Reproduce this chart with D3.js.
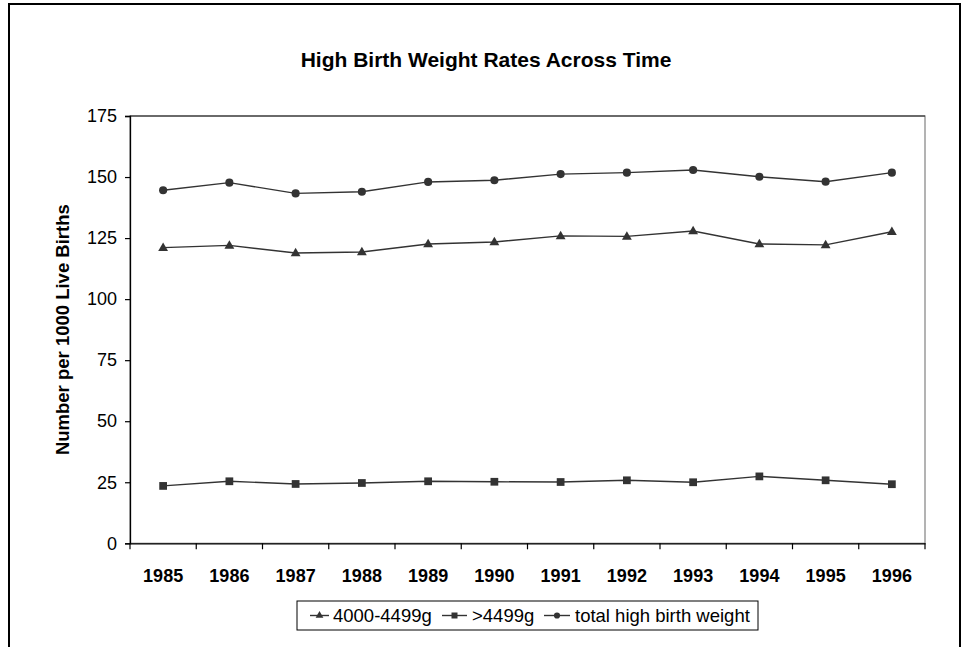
<!DOCTYPE html>
<html>
<head>
<meta charset="utf-8">
<script src="https://cdn.jsdelivr.net/npm/d3@7"></script>
<style>
  html, body { margin: 0; padding: 0; background: #fff; }
  svg { display: block; font-family: Arial, "Liberation Sans", sans-serif; }
</style>
</head>
<body>
<svg id="chart" width="963" height="647"></svg>
<script>
const years = ["1985","1986","1987","1988","1989","1990","1991","1992","1993","1994","1995","1996"];
const series4000 = [121.1, 122.0, 118.9, 119.3, 122.6, 123.4, 125.9, 125.7, 127.9, 122.6, 122.2, 127.6];
const series4499 = [23.5, 25.4, 24.3, 24.7, 25.4, 25.2, 25.1, 25.8, 25.0, 27.4, 25.8, 24.2];
const seriesTotal = [144.6, 147.7, 143.3, 144.0, 148.0, 148.7, 151.2, 151.8, 152.9, 150.1, 148.1, 151.8];
const seriesNames = ["4000-4499g", ">4499g", "total high birth weight"];
const yTicks = [0, 25, 50, 75, 100, 125, 150, 175];
const title = "High Birth Weight Rates Across Time";
const yTitle = "Number per 1000 Live Births";

const svg = d3.select("#chart");
const ink = "#333";
const FONT = "Arial, 'Liberation Sans', sans-serif";

// outer frame
svg.append("rect").attr("x", 9).attr("y", 4).attr("width", 951).attr("height", 660)
  .attr("fill", "none").attr("stroke", "#000").attr("stroke-width", 2);

const L = 130, R = 925, T = 116, B = 543.3;
const x = d3.scaleBand().domain(years).range([L, R]).padding(0);
const y = d3.scaleLinear().domain([0, 175]).range([B, T]);

// plot area border
svg.append("rect").attr("x", L).attr("y", T).attr("width", R - L).attr("height", B - T)
  .attr("fill", "none").attr("stroke", "#808080").attr("stroke-width", 1.2);
svg.append("line").attr("x1", L).attr("x2", R).attr("y1", T).attr("y2", T)
  .attr("stroke", "#222").attr("stroke-width", 1.2);

// y axis
const yAxis = svg.append("g").attr("transform", `translate(${L},0)`)
  .call(d3.axisLeft(y).tickValues(yTicks).tickSize(5).tickPadding(8).tickFormat(d3.format("d")));
yAxis.select(".domain").attr("stroke", "#000").attr("stroke-width", 1.3);
yAxis.selectAll(".tick line").attr("stroke", "#000").attr("stroke-width", 1.2);
yAxis.selectAll("text").attr("font-size", 18).attr("fill", "#000").attr("font-family", FONT);

// x axis
const xAxis = svg.append("g").attr("transform", `translate(0,${B})`)
  .call(d3.axisBottom(x).tickSize(0).tickPadding(0));
xAxis.select(".domain").attr("stroke", "#000").attr("stroke-width", 1.3);
xAxis.selectAll(".tick text").attr("font-size", 18).attr("font-weight", "bold").attr("fill", "#000")
  .attr("dy", null).attr("y", 39).attr("font-family", FONT);
// boundary ticks between categories
const bounds = years.map(d => x(d)).concat([R]);
svg.append("g").selectAll("line").data(bounds).join("line")
  .attr("x1", d => d).attr("x2", d => d).attr("y1", B).attr("y2", B + 6)
  .attr("stroke", "#000").attr("stroke-width", 1.2);

// title
svg.append("text").attr("x", 486).attr("y", 67).attr("text-anchor", "middle")
  .attr("font-size", 21).attr("font-weight", "bold").text(title);

// y title
svg.append("text").attr("transform", `translate(69,${(T + B) / 2}) rotate(-90)`)
  .attr("text-anchor", "middle").attr("font-size", 18.5).attr("font-weight", "bold").text(yTitle);

const cx = d => x(d) + x.bandwidth() / 2;
const line = d3.line().x((d, i) => cx(years[i])).y(d => y(d));
const tri = d3.symbol().type(d3.symbolTriangle).size(42);
const sq = d3.symbol().type(d3.symbolSquare).size(60);
const circ = d3.symbol().type(d3.symbolCircle).size(52);
const allSeries = [
  { vals: series4000, sym: tri, dy: 0.5 },
  { vals: series4499, sym: sq, dy: 0 },
  { vals: seriesTotal, sym: circ, dy: 0 }
];

allSeries.forEach(s => {
  svg.append("path").datum(s.vals).attr("d", line).attr("fill", "none")
    .attr("stroke", ink).attr("stroke-width", 1.4);
  svg.append("g").selectAll("path").data(s.vals).join("path")
    .attr("d", s.sym)
    .attr("transform", (d, i) => `translate(${cx(years[i])},${y(d) + s.dy})`)
    .attr("fill", ink);
});

// legend
const leg = svg.append("g");
leg.append("rect").attr("x", 297).attr("y", 601).attr("width", 461).attr("height", 29)
  .attr("fill", "#fff").attr("stroke", "#000").attr("stroke-width", 1);
const legItems = [
  { x0: 310, x1: 329, tx: 333, sym: d3.symbol().type(d3.symbolTriangle).size(26) },
  { x0: 442, x1: 467, tx: 472, sym: d3.symbol().type(d3.symbolSquare).size(36) },
  { x0: 544, x1: 570, tx: 575, sym: d3.symbol().type(d3.symbolCircle).size(30) }
];
legItems.forEach((it, i) => {
  const ly = 615.5;
  leg.append("line").attr("x1", it.x0).attr("x2", it.x1).attr("y1", ly).attr("y2", ly)
    .attr("stroke", ink).attr("stroke-width", 1.4);
  leg.append("path").attr("d", it.sym).attr("transform", `translate(${(it.x0 + it.x1) / 2},${ly})`)
    .attr("fill", ink);
  leg.append("text").attr("x", it.tx).attr("y", 622).attr("font-size", 18.5).text(seriesNames[i]);
});
</script>
</body>
</html>
